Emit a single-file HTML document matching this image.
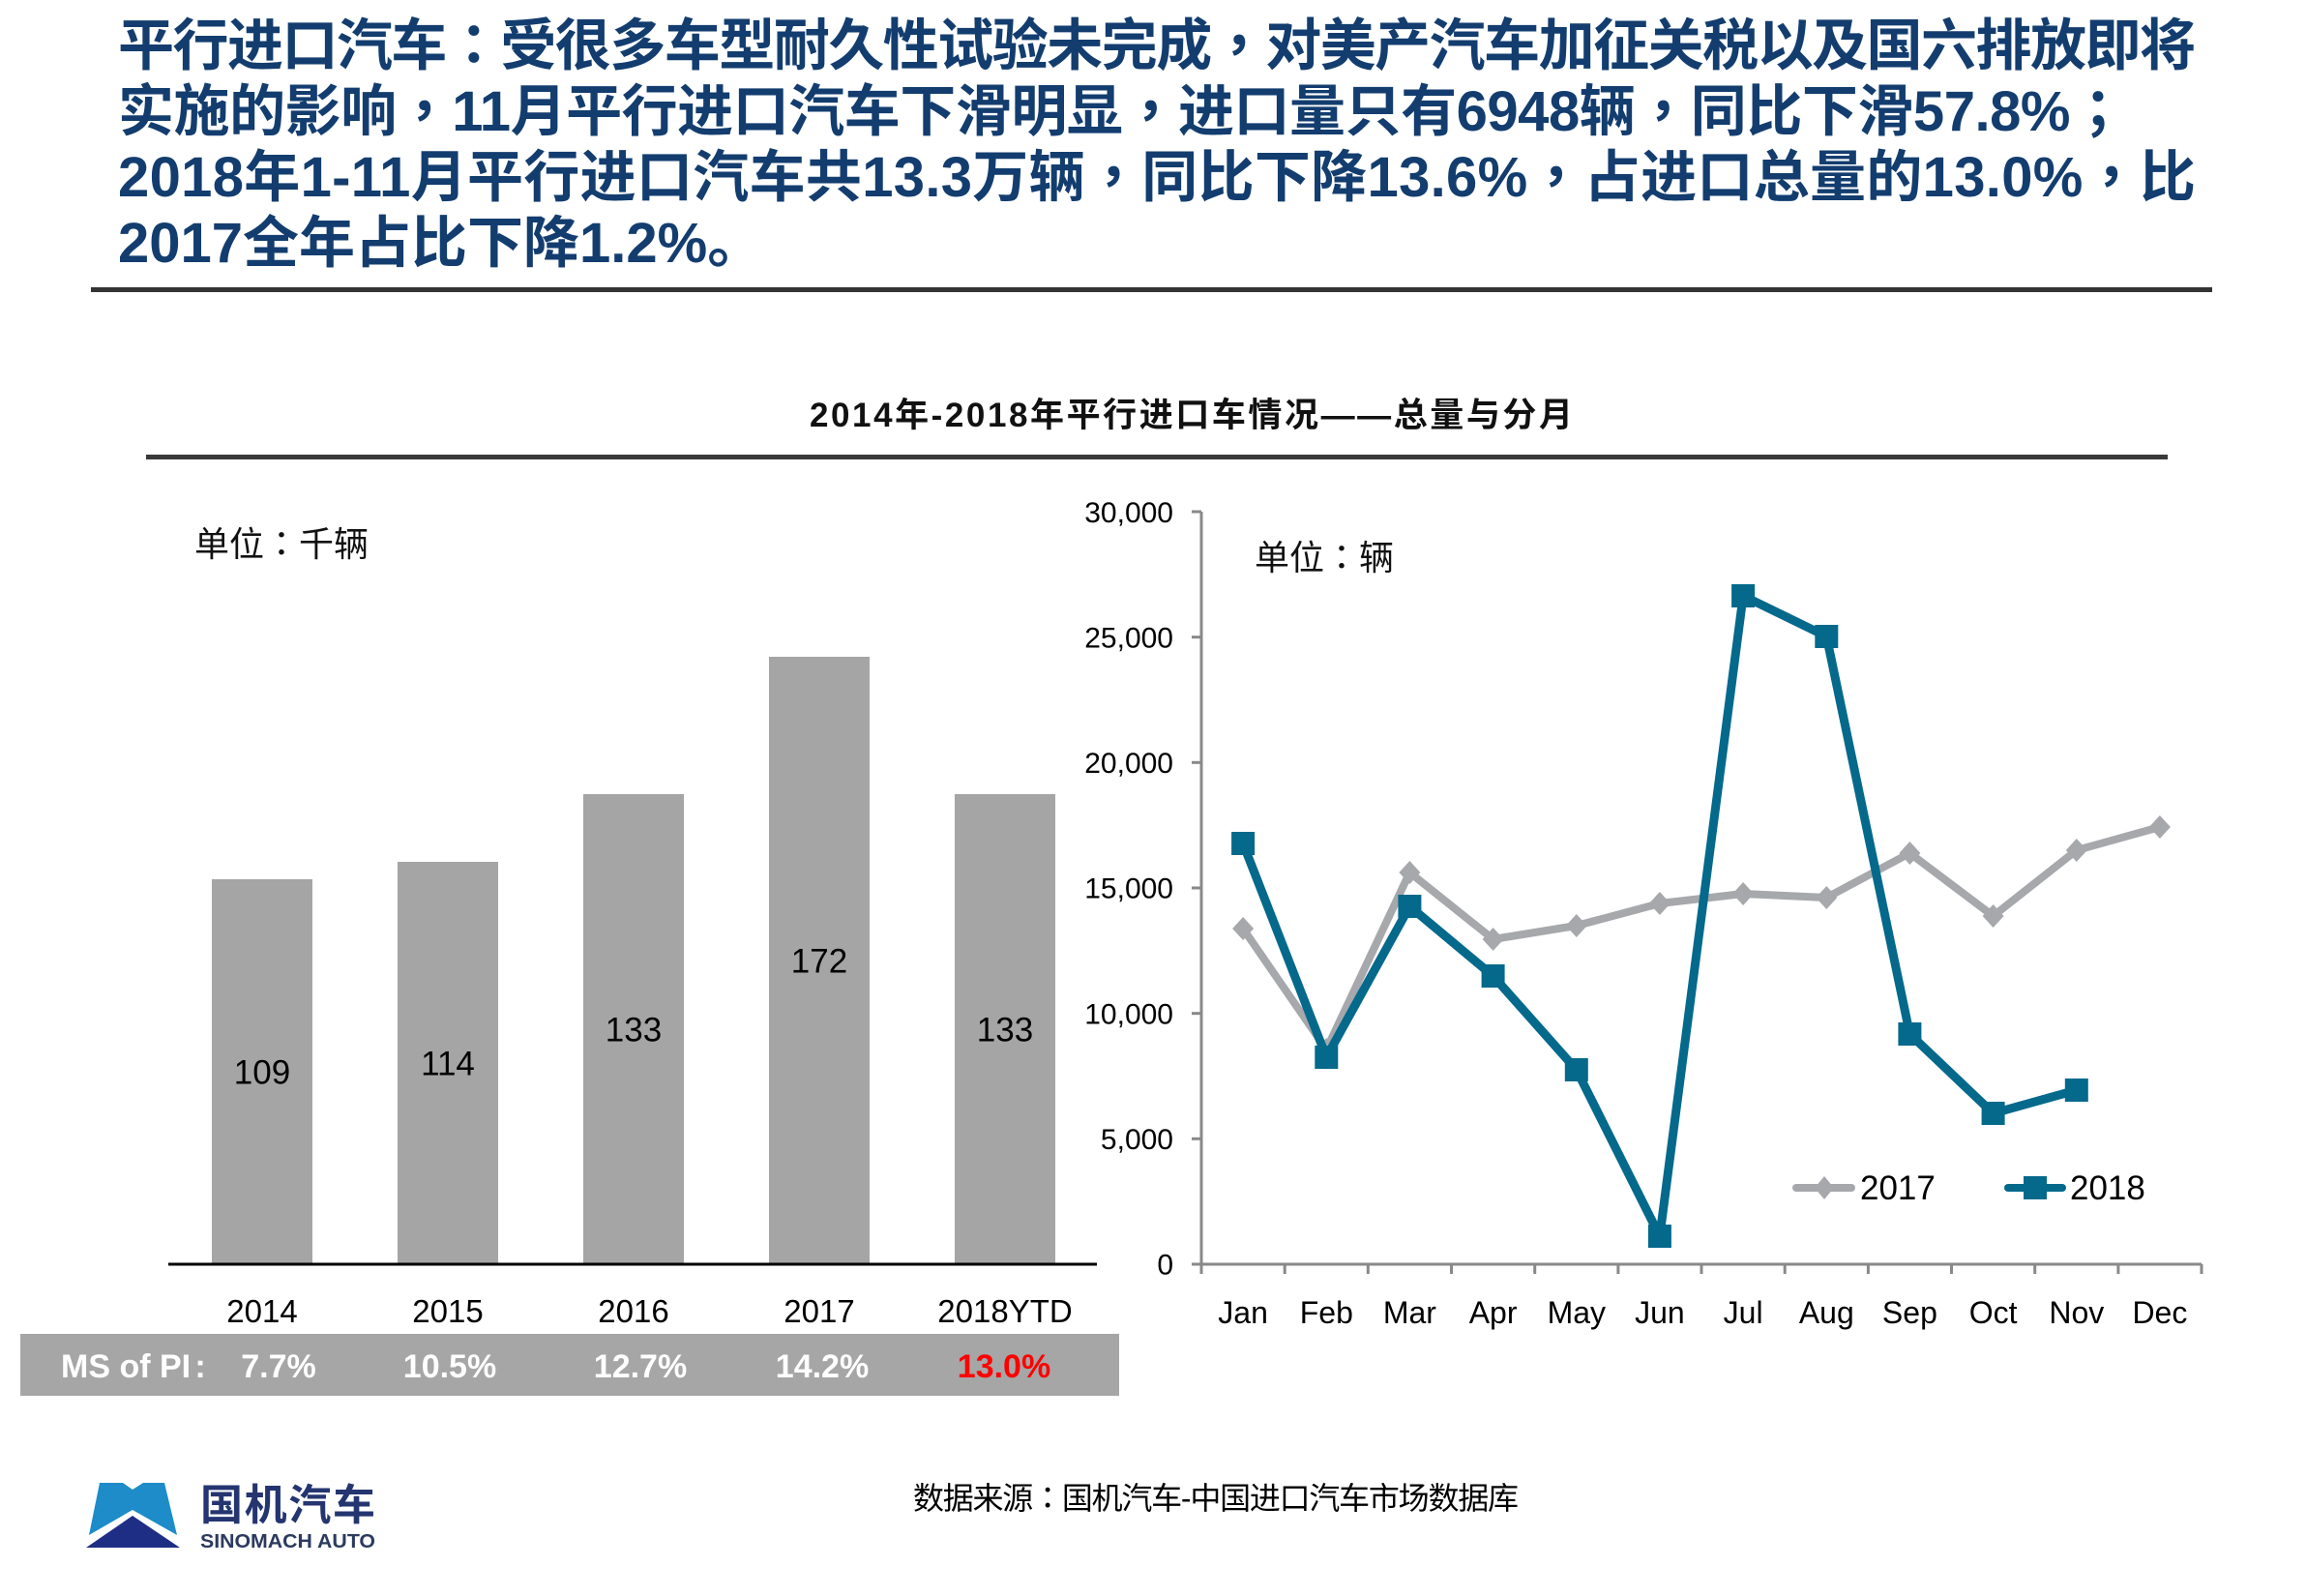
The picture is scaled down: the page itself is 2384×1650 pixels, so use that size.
<!DOCTYPE html>
<html>
<head>
<meta charset="utf-8">
<style>
  html,body{margin:0;padding:0;background:#fff;}
  svg{display:block;}
  text{font-family:"Liberation Sans","Noto Sans CJK SC",sans-serif;}
  .tc{font-family:"Noto Sans CJK TC","Noto Sans CJK SC",sans-serif;}
</style>
</head>
<body>
<svg width="2384" height="1650" viewBox="0 0 2384 1650" xmlns="http://www.w3.org/2000/svg">
  <rect width="2384" height="1650" fill="#ffffff"/>

  <!-- Headline -->
  <g font-size="58" font-weight="bold" fill="#133d6f">
    <text x="122" y="67" textLength="2148" lengthAdjust="spacing">平行进口汽车<tspan class="tc">：</tspan>受很多车型耐久性试验未完成<tspan class="tc">，</tspan>对美产汽车加征关税以及国六排放即将</text>
    <text x="122" y="135" textLength="2076" lengthAdjust="spacing">实施的影响<tspan class="tc">，</tspan>11月平行进口汽车下滑明显<tspan class="tc">，</tspan>进口量只有6948辆<tspan class="tc">，</tspan>同比下滑57.8%<tspan class="tc">；</tspan></text>
    <text x="122" y="203" textLength="2148" lengthAdjust="spacing">2018年1-11月平行进口汽车共13.3万辆<tspan class="tc">，</tspan>同比下降13.6%<tspan class="tc">，</tspan>占进口总量的13.0%<tspan class="tc">，</tspan>比</text>
    <text x="122" y="271">2017全年占比下降1.2%。</text>
  </g>
  <rect x="94" y="297" width="2193" height="5" fill="#333333"/>

  <!-- Chart title -->
  <text x="837" y="441" font-size="35" font-weight="bold" fill="#111" textLength="789" lengthAdjust="spacing">2014年-2018年平行进口车情况——总量与分月</text>
  <rect x="151" y="470" width="2090" height="5" fill="#3a3a3a"/>

  <!-- LEFT CHART -->
  <text x="201" y="575" font-size="36" fill="#111">单位<tspan class="tc">：</tspan>千辆</text>
  <g fill="#a5a5a5">
    <rect x="219" y="909" width="104" height="398"/>
    <rect x="411" y="891" width="104" height="416"/>
    <rect x="603" y="821" width="104" height="486"/>
    <rect x="795" y="679" width="104" height="628"/>
    <rect x="987" y="821" width="104" height="486"/>
  </g>
  <rect x="174" y="1305.5" width="960" height="3" fill="#000"/>
  <g font-size="35" fill="#000" text-anchor="middle">
    <text x="271" y="1120.5">109</text>
    <text x="463" y="1111.5">114</text>
    <text x="655" y="1076.5">133</text>
    <text x="847" y="1005.5">172</text>
    <text x="1039" y="1076.5">133</text>
  </g>
  <g font-size="33" fill="#000" text-anchor="middle">
    <text x="271" y="1367">2014</text>
    <text x="463" y="1367">2015</text>
    <text x="655" y="1367">2016</text>
    <text x="847" y="1367">2017</text>
    <text x="1039" y="1367">2018YTD</text>
  </g>
  <rect x="21" y="1379" width="1136" height="64" fill="#a6a6a6"/>
  <g font-size="34" font-weight="bold" fill="#ffffff">
    <text x="63" y="1424">MS of PI</text>
    <text x="207" y="1424" text-anchor="middle">:</text>
    <text x="288" y="1424" text-anchor="middle">7.7%</text>
    <text x="465" y="1424" text-anchor="middle">10.5%</text>
    <text x="662" y="1424" text-anchor="middle">12.7%</text>
    <text x="850" y="1424" text-anchor="middle">14.2%</text>
    <text x="1038" y="1424" text-anchor="middle" fill="#ff0000">13.0%</text>
  </g>

  <!-- RIGHT CHART -->
  <text x="1297" y="589" font-size="36" fill="#111">单位<tspan class="tc">：</tspan>辆</text>
  <g stroke="#898989" stroke-width="3" fill="none">
    <line x1="1242" y1="529" x2="1242" y2="1317"/>
    <line x1="1232" y1="1307" x2="2276" y2="1307"/>
    <line x1="1232" y1="529" x2="1242" y2="529"/>
    <line x1="1232" y1="658.7" x2="1242" y2="658.7"/>
    <line x1="1232" y1="788.3" x2="1242" y2="788.3"/>
    <line x1="1232" y1="918" x2="1242" y2="918"/>
    <line x1="1232" y1="1047.7" x2="1242" y2="1047.7"/>
    <line x1="1232" y1="1177.3" x2="1242" y2="1177.3"/>
    <line x1="1328.2" y1="1307" x2="1328.2" y2="1317"/>
    <line x1="1414.3" y1="1307" x2="1414.3" y2="1317"/>
    <line x1="1500.5" y1="1307" x2="1500.5" y2="1317"/>
    <line x1="1586.7" y1="1307" x2="1586.7" y2="1317"/>
    <line x1="1672.9" y1="1307" x2="1672.9" y2="1317"/>
    <line x1="1759.0" y1="1307" x2="1759.0" y2="1317"/>
    <line x1="1845.2" y1="1307" x2="1845.2" y2="1317"/>
    <line x1="1931.4" y1="1307" x2="1931.4" y2="1317"/>
    <line x1="2017.5" y1="1307" x2="2017.5" y2="1317"/>
    <line x1="2103.7" y1="1307" x2="2103.7" y2="1317"/>
    <line x1="2189.9" y1="1307" x2="2189.9" y2="1317"/>
    <line x1="2276" y1="1307" x2="2276" y2="1317"/>
  </g>
  <g font-size="30" fill="#000" text-anchor="end">
    <text x="1213" y="540">30,000</text>
    <text x="1213" y="669.4">25,000</text>
    <text x="1213" y="799">20,000</text>
    <text x="1213" y="928.7">15,000</text>
    <text x="1213" y="1058.4">10,000</text>
    <text x="1213" y="1188">5,000</text>
    <text x="1213" y="1317.7">0</text>
  </g>
  <g font-size="32" fill="#000" text-anchor="middle">
    <text x="1285.1" y="1368">Jan</text>
    <text x="1371.3" y="1368">Feb</text>
    <text x="1457.4" y="1368">Mar</text>
    <text x="1543.6" y="1368">Apr</text>
    <text x="1629.8" y="1368">May</text>
    <text x="1715.9" y="1368">Jun</text>
    <text x="1802.1" y="1368">Jul</text>
    <text x="1888.3" y="1368">Aug</text>
    <text x="1974.4" y="1368">Sep</text>
    <text x="2060.6" y="1368">Oct</text>
    <text x="2146.8" y="1368">Nov</text>
    <text x="2232.9" y="1368">Dec</text>
  </g>

  <!-- 2017 series -->
  <polyline fill="none" stroke="#a6a8ab" stroke-width="8" stroke-linejoin="round"
    points="1285.1,960 1371.3,1085 1457.4,902 1543.6,971 1629.8,957 1715.9,934 1802.1,924 1888.3,928 1974.4,882 2060.6,947 2146.8,879 2232.9,855"/>
  <g fill="#a6a8ab">
    <polygon points="1285.1,948 1296.1,960 1285.1,972 1274.1,960"/>
    <polygon points="1371.3,1073 1382.3,1085 1371.3,1097 1360.3,1085"/>
    <polygon points="1457.4,890 1468.4,902 1457.4,914 1446.4,902"/>
    <polygon points="1543.6,959 1554.6,971 1543.6,983 1532.6,971"/>
    <polygon points="1629.8,945 1640.8,957 1629.8,969 1618.8,957"/>
    <polygon points="1715.9,922 1726.9,934 1715.9,946 1704.9,934"/>
    <polygon points="1802.1,912 1813.1,924 1802.1,936 1791.1,924"/>
    <polygon points="1888.3,916 1899.3,928 1888.3,940 1877.3,928"/>
    <polygon points="1974.4,870 1985.4,882 1974.4,894 1963.4,882"/>
    <polygon points="2060.6,935 2071.6,947 2060.6,959 2049.6,947"/>
    <polygon points="2146.8,867 2157.8,879 2146.8,891 2135.8,879"/>
    <polygon points="2232.9,843 2243.9,855 2232.9,867 2221.9,855"/>
  </g>

  <!-- 2018 series -->
  <polyline fill="none" stroke="#04698b" stroke-width="9" stroke-linejoin="round"
    points="1285.1,872 1371.3,1093 1457.4,937 1543.6,1009 1629.8,1106 1715.9,1278 1802.1,616 1888.3,658 1974.4,1069 2060.6,1151 2146.8,1127"/>
  <g fill="#04698b">
    <rect x="1273.1" y="860" width="24" height="24"/>
    <rect x="1359.3" y="1081" width="24" height="24"/>
    <rect x="1445.4" y="925" width="24" height="24"/>
    <rect x="1531.6" y="997" width="24" height="24"/>
    <rect x="1617.8" y="1094" width="24" height="24"/>
    <rect x="1703.9" y="1266" width="24" height="24"/>
    <rect x="1790.1" y="604" width="24" height="24"/>
    <rect x="1876.3" y="646" width="24" height="24"/>
    <rect x="1962.4" y="1057" width="24" height="24"/>
    <rect x="2048.6" y="1139" width="24" height="24"/>
    <rect x="2134.8" y="1115" width="24" height="24"/>
  </g>

  <!-- Legend -->
  <line x1="1857" y1="1228" x2="1914" y2="1228" stroke="#a6a8ab" stroke-width="8" stroke-linecap="round"/>
  <polygon points="1886,1216 1896,1228 1886,1240 1876,1228" fill="#a6a8ab"/>
  <text x="1923" y="1240" font-size="35" fill="#000">2017</text>
  <line x1="2076" y1="1228" x2="2132" y2="1228" stroke="#04698b" stroke-width="8" stroke-linecap="round"/>
  <rect x="2092" y="1216" width="24" height="24" fill="#04698b"/>
  <text x="2140" y="1240" font-size="35" fill="#000">2018</text>

  <!-- Footer logo -->
  <polygon points="103,1533 127,1533 137,1540 148,1533 170,1533 183,1587 137,1561 92,1587" fill="#1d8cc9"/>
  <polygon points="89,1600 137,1567 186,1600" fill="#1f2e85"/>
  <text x="207" y="1571" font-size="44" font-weight="bold" fill="#243570" textLength="181" lengthAdjust="spacing">国机汽车</text>
  <text x="207" y="1600" font-size="20" font-weight="bold" fill="#2b3a5e" textLength="181" lengthAdjust="spacingAndGlyphs">SINOMACH AUTO</text>

  <!-- Source -->
  <text x="944" y="1560" font-size="32" fill="#000" textLength="626" lengthAdjust="spacing">数据来源<tspan class="tc">：</tspan>国机汽车-中国进口汽车市场数据库</text>
</svg>
</body>
</html>
